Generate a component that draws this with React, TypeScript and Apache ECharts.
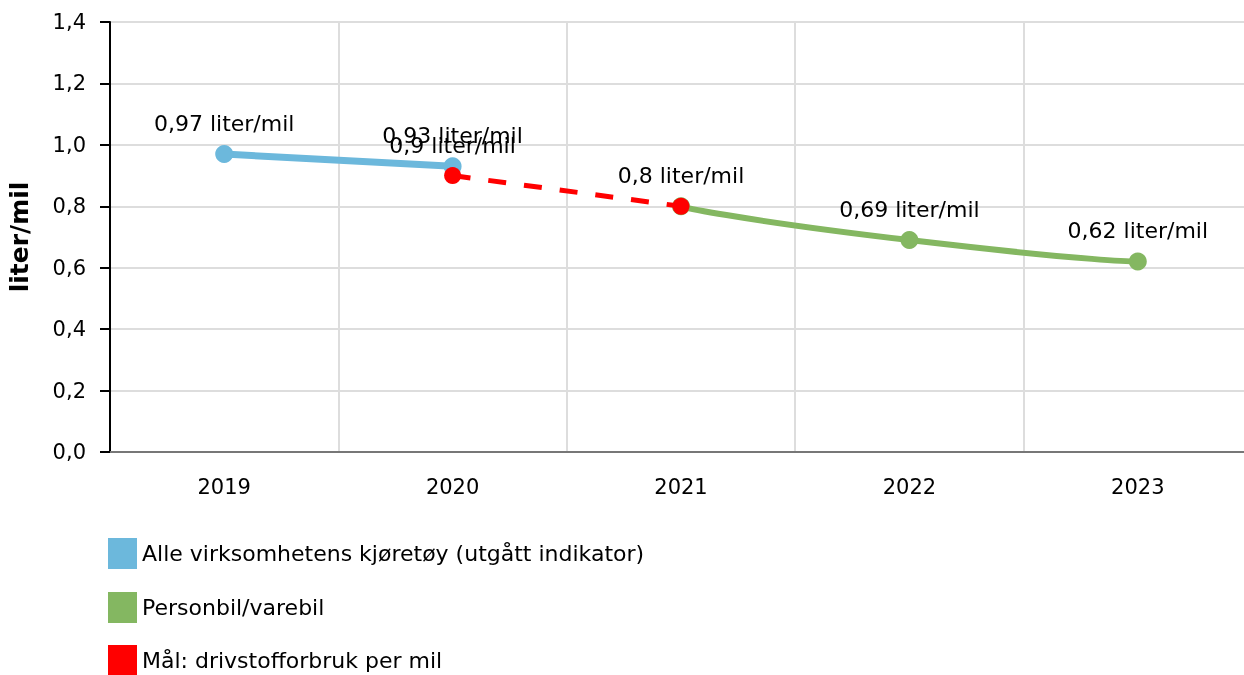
import React, { useEffect, useRef } from "react";
import * as echarts from "echarts";

const categories = ["2019", "2020", "2021", "2022", "2023"];
const allVehicles = [0.97, 0.93, null, null, null];
const passengerVan = [null, null, 0.8, 0.69, 0.62];
const target = [null, 0.9, 0.8, null, null];
const yTicks = [0, 0.2, 0.4, 0.6, 0.8, 1.0, 1.2, 1.4];

const seriesNames = [
  "Alle virksomhetens kjøretøy (utgått indikator)",
  "Personbil/varebil",
  "Mål: drivstofforbruk per mil",
];

const FONT = "DejaVu Sans";
const fmt = (v: number) => String(v).replace(".", ",");

export default function App() {
  const ref = useRef<HTMLDivElement>(null);
  useEffect(() => {
    if (!ref.current) return;
    document.body.style.margin = "0";
    document.body.style.overflow = "hidden";
    const chart = echarts.init(ref.current, null, { renderer: "svg" });
    const labelCfg = {
      show: true,
      position: "top",
      distance: 11,
      color: "#000",
      fontFamily: FONT,
      fontSize: 22,
      formatter: (p: any) => fmt(p.value) + " liter/mil",
    };
    const legendTops = [538, 592, 645];
    chart.setOption({
      animation: false,
      textStyle: { fontFamily: FONT },
      grid: {
        left: 110,
        top: 22,
        width: 1142,
        height: 430,
        containLabel: false,
        outerBoundsMode: "none",
      },
      legend: seriesNames.map((n, i) => ({
        orient: "vertical",
        left: 108,
        top: legendTops[i],
        padding: 0,
        itemWidth: 29,
        itemHeight: 31,
        icon: "rect",
        textStyle: { fontFamily: FONT, fontSize: 22, color: "#000" },
        data: [n],
      })),
      xAxis: {
        type: "category",
        data: categories,
        boundaryGap: true,
        axisLine: { lineStyle: { color: "#777", width: 2 } },
        axisTick: { alignWithLabel: true, length: 8, lineStyle: { color: "#999", width: 2 } },
        axisLabel: { color: "#000", fontFamily: FONT, fontSize: 21, margin: 24 },
        splitLine: { show: true, lineStyle: { color: "#ddd", width: 2 } },
      },
      yAxis: {
        type: "value",
        min: yTicks[0],
        max: yTicks[yTicks.length - 1],
        interval: 0.2,
        name: "liter/mil",
        nameLocation: "middle",
        nameGap: 78,
        nameTextStyle: { fontFamily: FONT, fontSize: 25, fontWeight: "bold", color: "#000" },
        axisLine: { show: true, lineStyle: { color: "#000", width: 2 } },
        axisTick: { show: true, length: 10, lineStyle: { color: "#000", width: 2 } },
        axisLabel: {
          color: "#000",
          fontFamily: FONT,
          fontSize: 21,
          margin: 24,
          formatter: (v: number) => v.toFixed(1).replace(".", ","),
        },
        splitLine: { show: true, lineStyle: { color: "#ddd", width: 2 } },
      },
      series: [
        {
          name: seriesNames[0],
          type: "line",
          data: allVehicles,
          color: "#6cb8dc",
          lineStyle: { width: 7, color: "#6cb8dc" },
          symbol: "circle",
          symbolSize: 18,
          itemStyle: { color: "#6cb8dc" },
          label: labelCfg,
          z: 2,
        },
        {
          name: seriesNames[1],
          type: "line",
          data: passengerVan,
          color: "#84b761",
          smooth: 0.8,
          lineStyle: { width: 6, color: "#84b761" },
          symbol: "circle",
          symbolSize: 18,
          itemStyle: { color: "#84b761" },
          label: { ...labelCfg, formatter: (p: any) => (p.dataIndex === 2 ? "" : fmt(p.value) + " liter/mil") },
          z: 2,
        },
        {
          name: seriesNames[2],
          type: "line",
          data: target,
          color: "#ff0000",
          lineStyle: { width: 5, color: "#ff0000", type: [18, 18] },
          symbol: "circle",
          symbolSize: 17,
          itemStyle: { color: "#ff0000" },
          label: labelCfg,
          z: 3,
        },
      ],
    });
    return () => chart.dispose();
  }, []);
  return (
    <div
      ref={ref}
      style={{ position: "fixed", left: 0, top: 0, width: 1244, height: 675 }}
    />
  );
}
